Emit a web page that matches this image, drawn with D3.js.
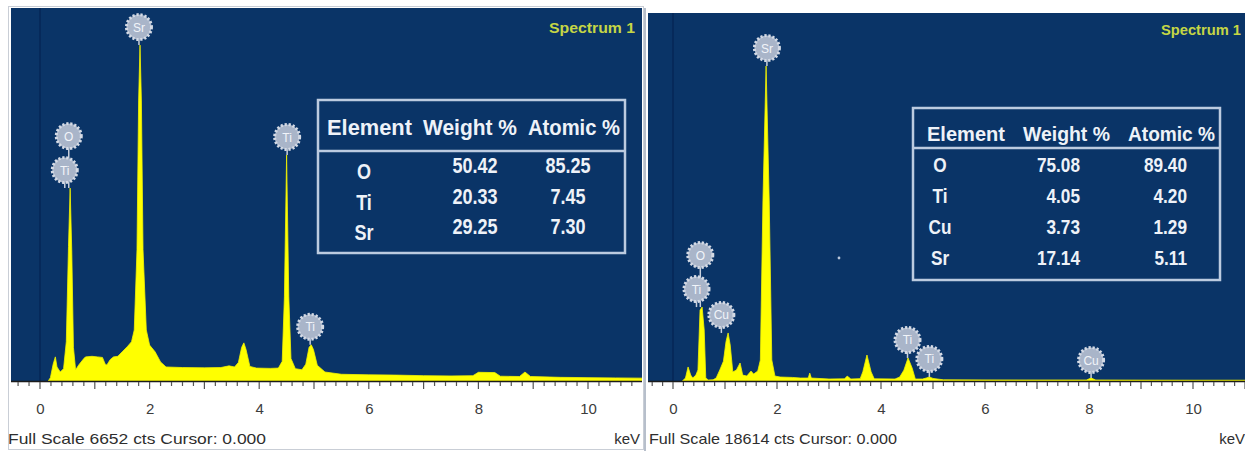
<!DOCTYPE html>
<html>
<head>
<meta charset="utf-8">
<script src="https://cdn.jsdelivr.net/npm/d3@7"></script>
<style>
  html, body { margin: 0; padding: 0; background: #ffffff; }
  svg { display: block; }
</style>
</head>
<body>
<svg id="chart" width="1245" height="451"></svg>
<script>
// ---------------- data ----------------
const keVTicks = [0, 2, 4, 6, 8, 10];

const fullScaleA = 6652;
const fullScaleB = 18614;

// EDS spectrum outline, [energy keV, counts]
const spectrumA = [
  [0.15, 0], [0.19, 60], [0.24, 300], [0.28, 430], [0.31, 250], [0.37, 160],
  [0.43, 220], [0.48, 700], [0.52, 2400], [0.55, 3440], [0.58, 2300], [0.61, 600],
  [0.65, 200], [0.71, 290], [0.80, 400], [0.83, 430], [0.95, 440], [1.05, 430],
  [1.14, 420], [1.19, 300], [1.22, 285], [1.28, 380], [1.34, 430], [1.42, 440],
  [1.50, 520], [1.60, 620], [1.67, 700], [1.72, 910], [1.77, 2340], [1.80, 5010],
  [1.825, 5990], [1.85, 5010], [1.88, 2340], [1.94, 910], [2.00, 640], [2.10, 520],
  [2.20, 340], [2.30, 250], [2.60, 240], [3.00, 235], [3.30, 240], [3.45, 270],
  [3.55, 250], [3.62, 330], [3.68, 600], [3.72, 680], [3.76, 560], [3.83, 260],
  [3.95, 230], [4.20, 225], [4.35, 230], [4.42, 350], [4.46, 1500], [4.50, 4030],
  [4.54, 1500], [4.58, 400], [4.66, 220], [4.78, 200], [4.85, 300], [4.91, 600],
  [4.95, 645], [4.99, 560], [5.06, 280], [5.20, 160], [5.50, 120], [6.00, 110],
  [6.50, 105], [7.00, 95], [7.50, 90], [7.90, 95], [8.00, 155], [8.30, 150],
  [8.40, 85], [8.75, 80], [8.85, 160], [8.95, 80], [9.50, 65], [10.00, 60],
  [10.50, 55], [11.10, 50]
];

const spectrumB = [
  [0.18, 0], [0.24, 150], [0.29, 710], [0.34, 300], [0.38, 150], [0.44, 300],
  [0.48, 560], [0.52, 3590], [0.56, 3740], [0.60, 2580], [0.63, 150], [0.68, 50],
  [0.77, 60], [0.83, 150], [0.90, 560], [0.97, 1000], [1.02, 2000], [1.06, 2430],
  [1.10, 1820], [1.15, 455], [1.22, 560], [1.29, 910], [1.34, 300], [1.42, 250],
  [1.50, 500], [1.55, 350], [1.63, 500], [1.68, 1060], [1.73, 9150], [1.79, 15930],
  [1.85, 9150], [1.90, 1060], [1.96, 250], [2.06, 200], [2.30, 180], [2.45, 150],
  [2.60, 150], [2.63, 400], [2.66, 150], [3.00, 100], [3.30, 110], [3.35, 250],
  [3.42, 100], [3.60, 120], [3.65, 460], [3.73, 1315], [3.81, 460], [3.87, 110],
  [4.27, 100], [4.36, 200], [4.44, 550], [4.52, 1165], [4.60, 650], [4.66, 100],
  [4.80, 100], [4.87, 150], [4.93, 205], [5.00, 130], [5.20, 60], [6.00, 55],
  [7.00, 50], [7.95, 50], [8.04, 150], [8.13, 50], [9.00, 45], [10.00, 40],
  [11.10, 40]
];

// identified X-ray lines
const peakElementsA = ["Ti", "O", "Sr", "Ti", "Ti"];
const peakEnergiesA = [0.452, 0.525, 1.806, 4.51, 4.93];
const peakElementsB = ["Ti", "O", "Cu", "Sr", "Ti", "Ti", "Cu"];
const peakEnergiesB = [0.452, 0.525, 0.93, 1.806, 4.51, 4.93, 8.04];

// quantification tables
const tableHeaders = ["Element", "Weight %", "Atomic %"];
const elementsA = ["O", "Ti", "Sr"];
const weightA = [50.42, 20.33, 29.25];
const atomicA = [85.25, 7.45, 7.30];
const elementsB = ["O", "Ti", "Cu", "Sr"];
const weightB = [75.08, 4.05, 3.73, 17.14];
const atomicB = [89.40, 4.20, 1.29, 5.11];

const spectrumTitle = "Spectrum 1";

// ---------------- drawing ----------------
const svg = d3.select("#chart");
svg.append("rect").attr("width", 1245).attr("height", 451).attr("fill", "#ffffff");

const BLUE = "#0a3467";
const YELLOW = "#ffff00";
const FONT = "'Liberation Sans', Arial, sans-serif";

const panels = [
  {
    id: "a", spectrum: spectrumA, fullScale: fullScaleA,
    elements: peakElementsA, energies: peakEnergiesA,
    tEl: elementsA, tW: weightA, tA: atomicA,
    plot: { x0: 11, x1: 642, y0: 8, y1: 381 },
    keVRange: [40, 588],
    footerX: 8, footerLen: 258, keVRight: 640,
    titleRight: 635, titleY: 33,
    table: {
      x: 318, y: 100, w: 307, h: 153, sep: 151, headY: 135, headSize: 22,
      headX: [327, 423, 528], headLen: [85, 94, 92],
      nameX: 364, nameY: 179, numY: 173, step: 30.5, size: 22,
      wX: 475, aX: 568, anchor: "middle"
    }
  },
  {
    id: "b", spectrum: spectrumB, fullScale: fullScaleB,
    elements: peakElementsB, energies: peakEnergiesB,
    tEl: elementsB, tW: weightB, tA: atomicB,
    plot: { x0: 648, x1: 1245, y0: 13, y1: 381 },
    keVRange: [673, 1193],
    footerX: 649, footerLen: 248, keVRight: 1245,
    titleRight: 1241, titleY: 35,
    table: {
      x: 913, y: 108, w: 307, h: 172, sep: 148, headY: 141, headSize: 20,
      headX: [927, 1023, 1128], headLen: [78, 87, 87],
      nameX: 940, nameY: 172, numY: 172, step: 31, size: 21,
      wX: 1080, aX: 1187, anchor: "end"
    }
  }
];

// light frame around the first panel and divider between panels
svg.append("rect").attr("x", 8.5).attr("y", 6.5).attr("width", 635).attr("height", 443)
  .attr("fill", "none").attr("stroke", "#c9ced6").attr("stroke-width", 1);
svg.append("line").attr("x1", 645).attr("x2", 645).attr("y1", 8).attr("y2", 451)
  .attr("stroke", "#b7bfcb").attr("stroke-width", 2);

panels.forEach(p => {
  const g = svg.append("g").attr("class", "panel-" + p.id);
  const { x0, x1, y0, y1 } = p.plot;

  const x = d3.scaleLinear().domain([0, 10]).range(p.keVRange);
  const y = d3.scaleLinear().domain([0, p.fullScale]).range([y1, y0]);

  const clipId = "clip-" + p.id;
  svg.append("defs").append("clipPath").attr("id", clipId)
    .append("rect").attr("x", x0).attr("y", y0).attr("width", x1 - x0).attr("height", y1 - y0);

  // plot background
  g.append("rect").attr("x", x0).attr("y", y0).attr("width", x1 - x0).attr("height", y1 - y0)
    .attr("fill", BLUE);
  // faint zero-energy line
  g.append("line").attr("x1", x(0)).attr("x2", x(0)).attr("y1", y0).attr("y2", y1)
    .attr("stroke", "#06295a").attr("stroke-width", 2);

  // spectrum
  const area = d3.area()
    .x(d => x(d[0]))
    .y0(y(0))
    .y1(d => y(d[1]));
  g.append("path")
    .datum(p.spectrum)
    .attr("clip-path", `url(#${clipId})`)
    .attr("d", area)
    .attr("fill", YELLOW)
    .attr("stroke", "#f2f200")
    .attr("stroke-width", 0.8);

  // baseline
  g.append("line").attr("x1", x0).attr("x2", x1).attr("y1", y1 + 0.5).attr("y2", y1 + 0.5)
    .attr("stroke", "#1b1b1b").attr("stroke-width", 1.5);

  // energy axis: minor ticks every 0.2 keV, major every 1 keV, labels every 2 keV
  const [kMin, kMax] = [x.invert(x0), x.invert(x1)];
  const minor = d3.range(Math.ceil(kMin * 5), Math.floor(kMax * 5) + 1).map(v => v / 5);
  g.append("g").selectAll("line").data(minor).join("line")
    .attr("x1", d => x(d)).attr("x2", d => x(d))
    .attr("y1", y1 + 1)
    .attr("y2", d => Math.abs(d - Math.round(d)) < 1e-6 ? y1 + 8 : y1 + 5)
    .attr("stroke", "#555").attr("stroke-width", 1.2);

  const axis = d3.axisBottom(x).tickValues(keVTicks).tickSize(0).tickPadding(0)
    .tickFormat(d3.format("d"));
  const ax = g.append("g").attr("transform", `translate(0,${y1 + 33})`).call(axis);
  ax.select(".domain").remove();
  ax.selectAll("text").attr("font-family", FONT).attr("font-size", 15)
    .attr("fill", "#3c3c3c").attr("dy", 0);

  // footer
  g.append("text").attr("x", p.footerX).attr("y", 444)
    .attr("font-family", FONT).attr("font-size", 15).attr("fill", "#2e2e2e")
    .attr("textLength", p.footerLen).attr("lengthAdjust", "spacingAndGlyphs")
    .text(`Full Scale ${p.fullScale} cts Cursor: 0.000`);
  g.append("text").attr("x", p.keVRight).attr("y", 444).attr("text-anchor", "end")
    .attr("font-family", FONT).attr("font-size", 15).attr("fill", "#2e2e2e")
    .text("keV");

  // spectrum title
  g.append("text").attr("x", p.titleRight).attr("y", p.titleY).attr("text-anchor", "end")
    .attr("font-family", FONT).attr("font-size", 15).attr("font-weight", "bold")
    .attr("fill", "#c5d645")
    .attr("textLength", p.id === "a" ? 86 : 80).attr("lengthAdjust", "spacingAndGlyphs")
    .text(spectrumTitle);

  // peak markers: anchored at the highest point near each line energy
  const R = 12;
  const placed = [];
  p.elements.forEach((el, i) => {
    const e = p.energies[i];
    const near = p.spectrum.filter(d => Math.abs(d[0] - e) <= 0.15);
    const top = d3.max(near, d => d[1]);
    const px = x(e);
    const anchorY = y(top);
    let cy = anchorY - R - 6;
    placed.forEach(o => {
      if (Math.abs(o.x - px) < 20 && Math.abs(o.y - cy) < 30) cy = o.y - 34;
    });
    placed.push({ x: px, y: cy, el, anchorY });
  });
  const mk = g.append("g").attr("class", "peaks");
  mk.selectAll("line").data(placed).join("line")
    .attr("x1", d => d.x).attr("x2", d => d.x)
    .attr("y1", d => d.y + R).attr("y2", d => d.anchorY)
    .attr("stroke", "#c9d0dc").attr("stroke-width", 1.5);
  mk.selectAll("circle.halo").data(placed).join("circle").attr("class", "halo")
    .attr("cx", d => d.x).attr("cy", d => d.y).attr("r", R + 0.5)
    .attr("fill", "#a9b5c9")
    .attr("stroke", "#d4dae5").attr("stroke-width", 3).attr("stroke-dasharray", "2.2 1.8");
  mk.selectAll("text").data(placed).join("text")
    .attr("x", d => d.x).attr("y", d => d.y + 4.5).attr("text-anchor", "middle")
    .attr("font-family", FONT).attr("font-size", 12).attr("fill", "#f1f4f9")
    .text(d => d.el);

  // quantification table
  const t = p.table;
  const tg = g.append("g").attr("class", "table");
  tg.append("rect").attr("x", t.x).attr("y", t.y).attr("width", t.w).attr("height", t.h)
    .attr("fill", BLUE).attr("stroke", "#bccbe0").attr("stroke-width", 2.5);
  tg.append("line").attr("x1", t.x).attr("x2", t.x + t.w).attr("y1", t.sep).attr("y2", t.sep)
    .attr("stroke", "#bccbe0").attr("stroke-width", 2.5);
  tableHeaders.forEach((h, i) => {
    tg.append("text").attr("x", t.headX[i]).attr("y", t.headY)
      .attr("font-family", FONT).attr("font-size", t.headSize).attr("font-weight", "bold")
      .attr("fill", "#eef2f8")
      .attr("textLength", t.headLen[i]).attr("lengthAdjust", "spacingAndGlyphs")
      .text(h);
  });
  const narrow = (sel, size) => sel.attr("font-family", FONT).attr("font-size", size)
    .attr("font-weight", "bold").attr("fill", "#eef2f8");
  p.tEl.forEach((el, i) => {
    narrow(tg.append("text"), t.size)
      .attr("transform", `translate(${t.nameX},${t.nameY + i * t.step}) scale(0.82,1)`)
      .attr("text-anchor", "middle").text(el);
    narrow(tg.append("text"), t.size)
      .attr("transform", `translate(${t.wX},${t.numY + i * t.step}) scale(0.82,1)`)
      .attr("text-anchor", t.anchor).text(p.tW[i].toFixed(2));
    narrow(tg.append("text"), t.size)
      .attr("transform", `translate(${t.aX},${t.numY + i * t.step}) scale(0.82,1)`)
      .attr("text-anchor", t.anchor).text(p.tA[i].toFixed(2));
  });
});

// stray bright pixel in the second spectrum window
svg.append("circle").attr("cx", 839).attr("cy", 258).attr("r", 1.4).attr("fill", "#b9c6da");
</script>
</body>
</html>
